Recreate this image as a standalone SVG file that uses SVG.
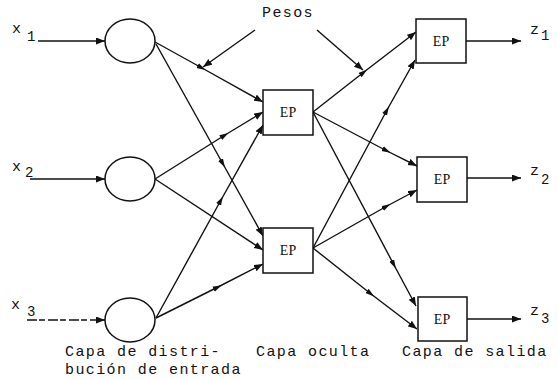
<svg xmlns="http://www.w3.org/2000/svg" width="558" height="380" viewBox="0 0 558 380">
<style>
.ln{fill:none;stroke:#111;stroke-width:1.4}
.nd{fill:#fff;stroke:#111;stroke-width:1.5}
.ep{font-family:"Liberation Serif",serif;font-size:14px;fill:#111;text-anchor:middle}
.lb{font-family:"Liberation Mono",monospace;font-size:15px;fill:#111;letter-spacing:1.4px}
.sb{font-family:"Liberation Mono",monospace;font-size:14px;fill:#111}
</style>
<defs>
<marker id="ah" markerUnits="userSpaceOnUse" markerWidth="10" markerHeight="8" refX="9" refY="3.5" orient="auto">
<path d="M0,0 L9,3.5 L0,7 Z" fill="#111"/>
</marker>
<marker id="mh" markerUnits="userSpaceOnUse" markerWidth="10" markerHeight="8" refX="5" refY="3" orient="auto">
<path d="M0,0.3 L9,3 L0,5.7 Z" fill="#111"/>
</marker>
</defs>
<g id="connectors">
<path class="ln" d="M38,41 L105,41" marker-end="url(#ah)"/>
<path class="ln" d="M30,179 L105,179" marker-end="url(#ah)"/>
<path class="ln" d="M27,320 L105,320" marker-end="url(#ah)" stroke-dasharray="10,2,6,3" stroke-width="1.1"/>
<path class="ln" d="M155,42 L202,68 L263,102" marker-mid="url(#mh)" marker-end="url(#ah)"/>
<path class="ln" d="M156,44 L223,164 L263,236" marker-mid="url(#mh)" marker-end="url(#ah)"/>
<path class="ln" d="M155,179 L225,135 L263,112" marker-mid="url(#mh)" marker-end="url(#ah)"/>
<path class="ln" d="M155,179 L263,250" marker-end="url(#ah)"/>
<path class="ln" d="M156,318 L221,200 L263,125" marker-mid="url(#mh)" marker-end="url(#ah)"/>
<path class="ln" d="M156,318 L218,287 L263,264" marker-mid="url(#mh)" marker-end="url(#ah)"/>
<path class="ln" d="M313,112 L364,72 L416,32" marker-mid="url(#mh)" marker-end="url(#ah)"/>
<path class="ln" d="M313,112 L387,151 L417,166" marker-mid="url(#mh)" marker-end="url(#ah)"/>
<path class="ln" d="M313,112 L394,265 L416,306" marker-mid="url(#mh)" marker-end="url(#ah)"/>
<path class="ln" d="M313,248 L387,110 L415,60" marker-mid="url(#mh)" marker-end="url(#ah)"/>
<path class="ln" d="M313,248 L387,206 L417,190" marker-mid="url(#mh)" marker-end="url(#ah)"/>
<path class="ln" d="M313,248 L371,294 L417,329" marker-mid="url(#mh)" marker-end="url(#ah)"/>
<path class="ln" d="M255,30 L203,67" marker-end="url(#ah)"/>
<path class="ln" d="M317,30 L363,70" marker-end="url(#ah)"/>
<path class="ln" d="M466,41 L521,41" marker-end="url(#ah)"/>
<path class="ln" d="M467,178 L521,178" marker-end="url(#ah)"/>
<path class="ln" d="M467,319 L521,319" marker-end="url(#ah)"/>
</g>
<g id="in1"><ellipse class="nd" cx="130" cy="41" rx="25" ry="22"/></g>
<g id="in2"><ellipse class="nd" cx="130" cy="179" rx="25" ry="22"/></g>
<g id="in3"><ellipse class="nd" cx="130" cy="320" rx="25" ry="22"/></g>
<g id="h1"><rect class="nd" x="263" y="90" width="50" height="45"/><text class="ep" x="288" y="117">EP</text></g>
<g id="h2"><rect class="nd" x="263" y="228" width="50" height="45"/><text class="ep" x="288" y="255">EP</text></g>
<g id="o1"><rect class="nd" x="416" y="19" width="50" height="44"/><text class="ep" x="441" y="46">EP</text></g>
<g id="o2"><rect class="nd" x="417" y="157" width="50" height="45"/><text class="ep" x="442" y="184">EP</text></g>
<g id="o3"><rect class="nd" x="418" y="297" width="49" height="44"/><text class="ep" x="442" y="324">EP</text></g>
<g id="labels">
<text class="lb" x="262" y="17">Pesos</text>
<text class="lb" x="12" y="33">x</text><text class="sb" x="27" y="41">1</text>
<text class="lb" x="12" y="171">x</text><text class="sb" x="25" y="177">2</text>
<text class="lb" x="11" y="309">x</text><text class="sb" x="27" y="316">3</text>
<text class="lb" x="530" y="34">z</text><text class="sb" x="541" y="40">1</text>
<text class="lb" x="530" y="175">z</text><text class="sb" x="541" y="184">2</text>
<text class="lb" x="530" y="315">z</text><text class="sb" x="541" y="323">3</text>
<text class="lb" x="65" y="356">Capa de distri-</text>
<text class="lb" x="65" y="374">bución de entrada</text>
<text class="lb" x="256" y="356">Capa oculta</text>
<text class="lb" x="402" y="356">Capa de salida</text>
</g>
</svg>
